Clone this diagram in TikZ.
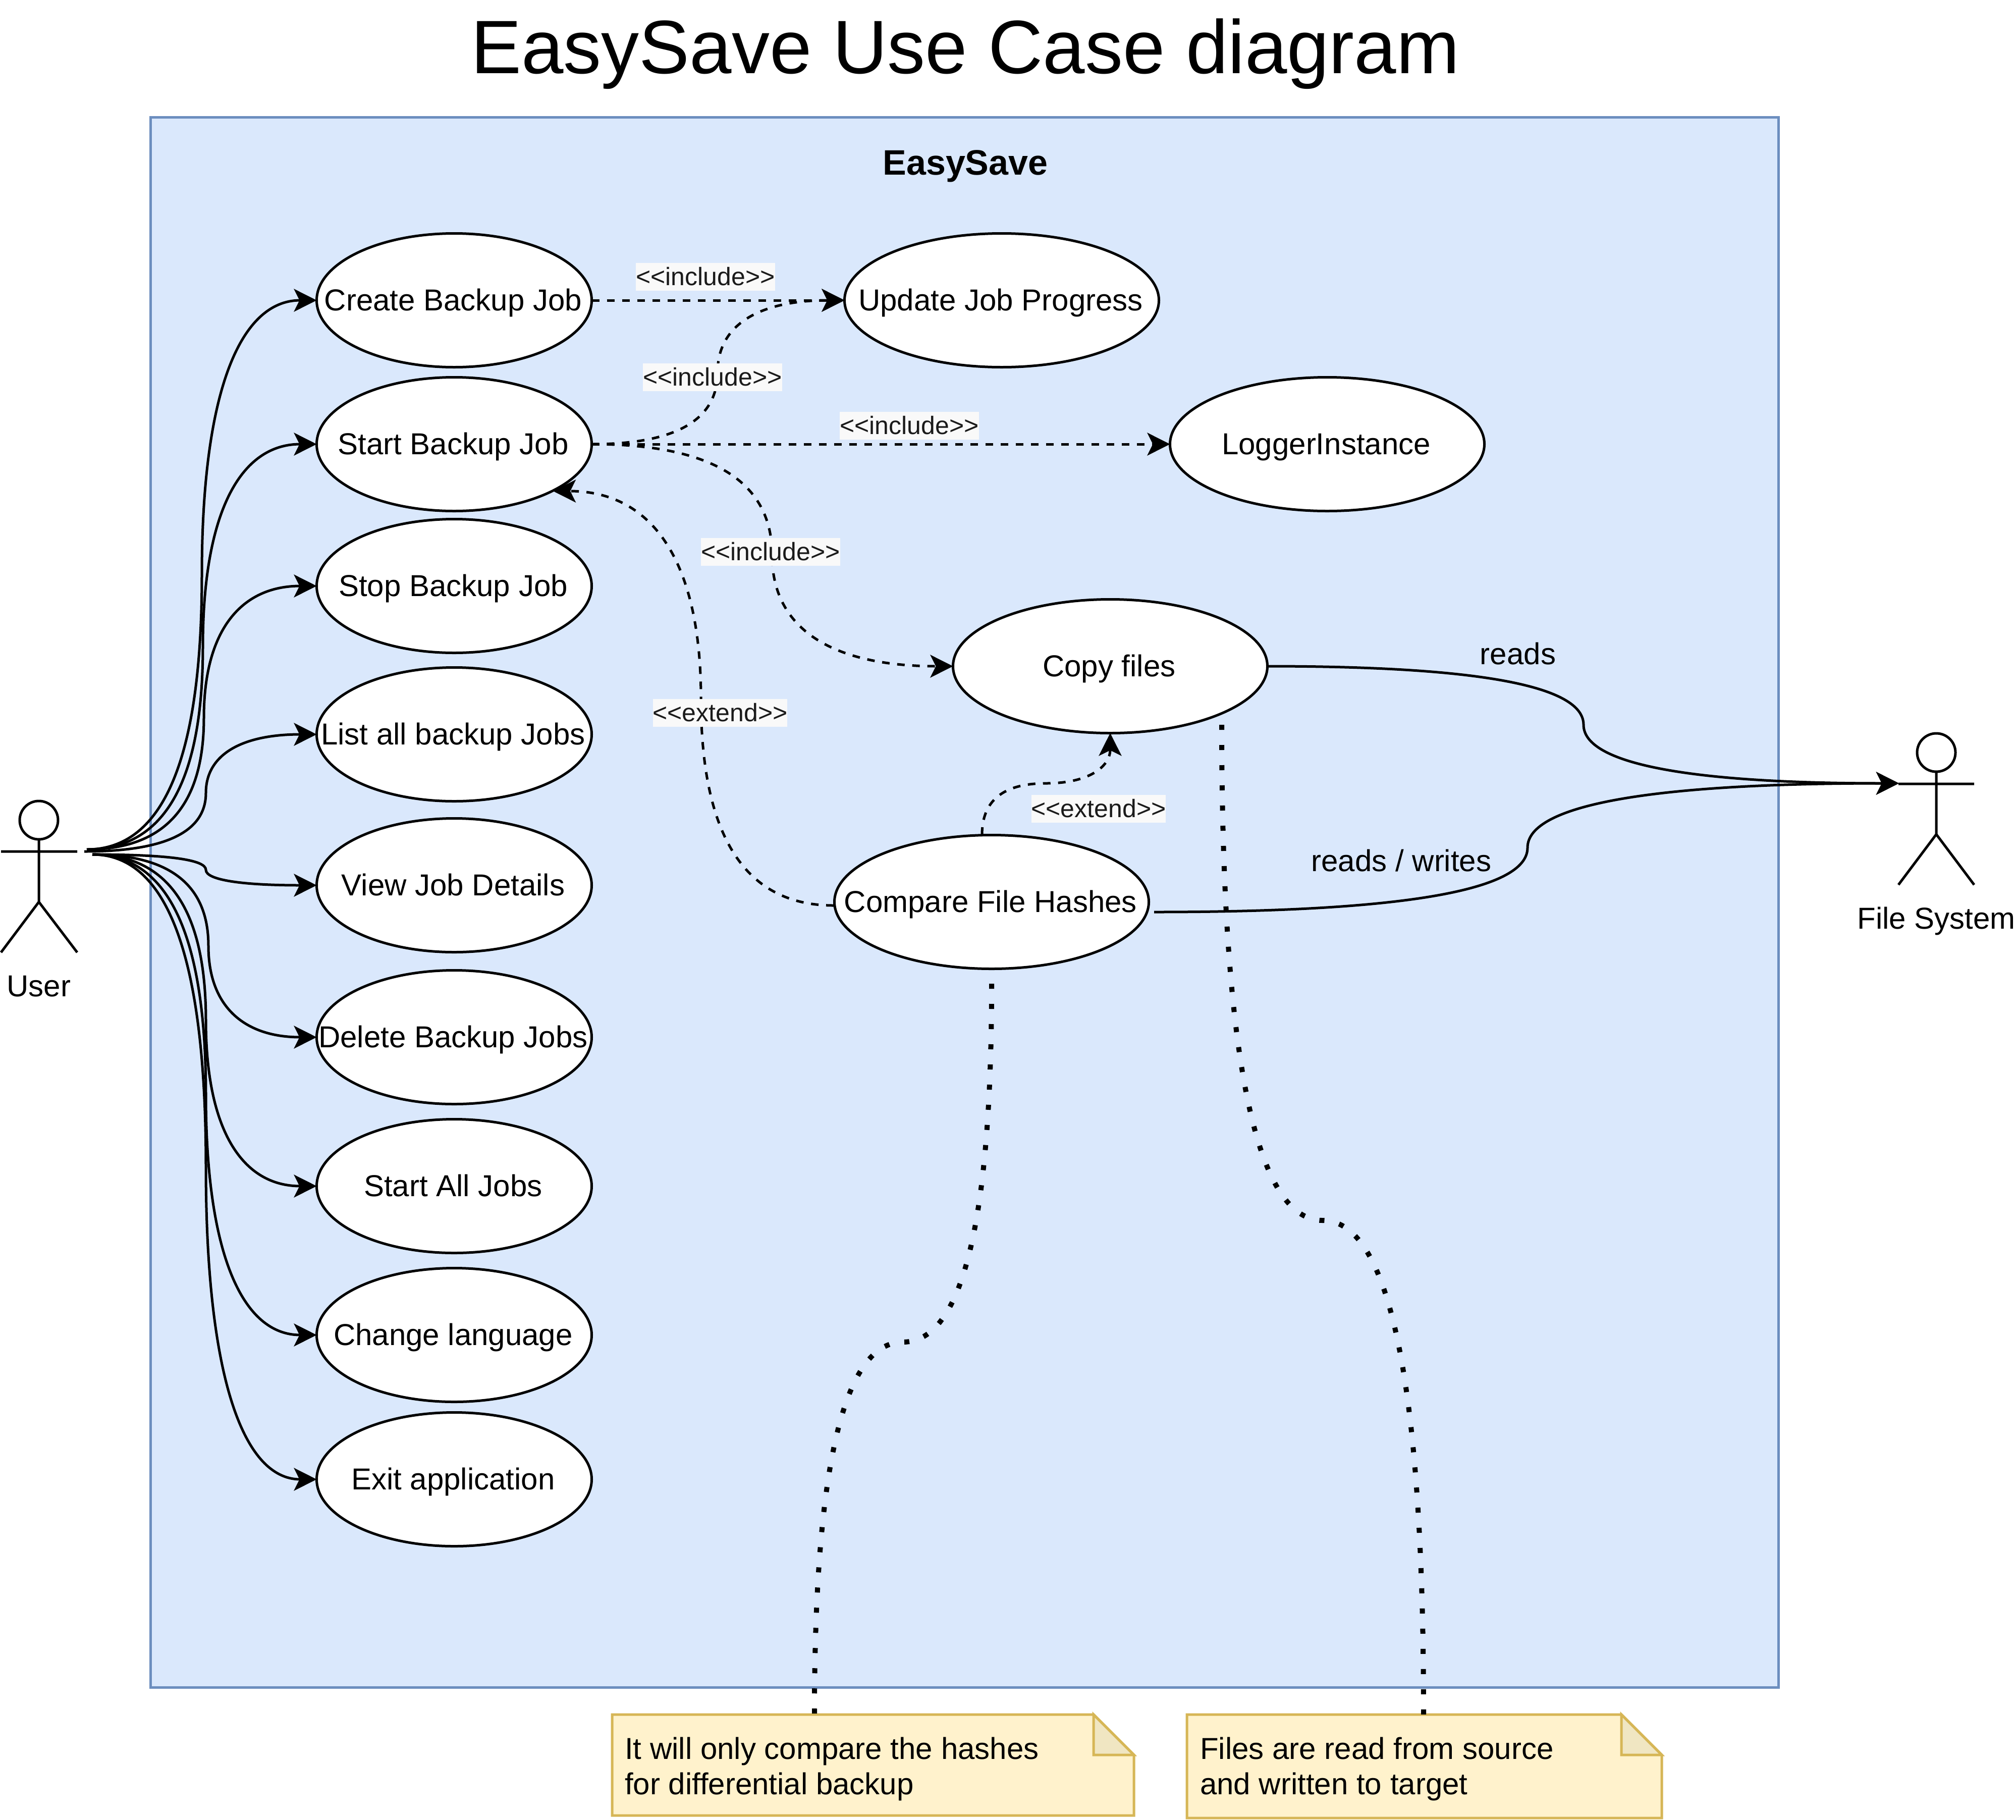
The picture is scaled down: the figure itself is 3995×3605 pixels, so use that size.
\documentclass[tikz,border=0pt]{standalone}
\usepackage{fontspec}
\setmainfont{Liberation Sans}
\usetikzlibrary{calc,arrows.meta,shapes.geometric}
\definecolor{boxfill}{HTML}{DAE8FC}
\definecolor{boxline}{HTML}{6C8EBF}
\definecolor{notefill}{HTML}{FFF2CC}
\definecolor{noteline}{HTML}{D6B656}
\definecolor{notefold}{HTML}{F0E6C2}
\definecolor{labelbg}{HTML}{F9F9F9}
\definecolor{labeltext}{HTML}{1A1A1A}
\newcommand{\casetext}[1]{\smash{\raisebox{-20pt}{\makebox[0pt][c]{\hspace*{-4pt}#1}}}}
\tikzset{
  x=1pt,y=-1pt,
  usecase/.style={draw=black,fill=white,ellipse,line width=5pt,inner sep=0pt,outer sep=0pt,font=\fontsize{60}{70}\selectfont},
  leftcase/.style={usecase,minimum width=545pt,minimum height=265pt},
  rightcase/.style={usecase,minimum width=623pt,minimum height=265pt},
  flow/.style={draw=black,line width=5pt,-{Stealth[length=45pt,width=45pt,inset=11pt]}},
  dashflow/.style={flow,dash pattern=on 15pt off 15pt},
  dotflow/.style={draw=black,line width=10pt,dash pattern=on 10pt off 30pt},
  stereotype/.style={fill=labelbg,text=labeltext,inner sep=0pt,minimum width=275pt,minimum height=55pt,font=\fontsize{50}{55}\selectfont},
  plainlabel/.style={inner sep=0pt,font=\fontsize{60}{70}\selectfont},
  figure/.style={draw=black,line width=5pt},
  notebody/.style={draw=noteline,fill=notefill,line width=5pt,line join=miter},
  notecorner/.style={draw=noteline,fill=notefold,line width=5pt,line join=miter},
  notetext/.style={anchor=north west,inner sep=0pt,align=left,font=\fontsize{60}{70}\selectfont}
}
% horizontal-vertical-horizontal rounded route
\newcommand{\hvh}[4][]{%
  \coordinate (qs) at (#2);\coordinate (qe) at (#4);\coordinate (qx) at (#3,0);
  \coordinate (qa) at (qx |- qs);\coordinate (qb) at (qx |- qe);
  \coordinate (qm) at ($(qa)!.5!(qb)$);
  \draw[#1] (qs) .. controls ($(qs)!.6667!(qa)$) and ($(qm)!.6667!(qa)$) .. (qm)
     .. controls ($(qm)!.6667!(qb)$) and ($(qe)!.6667!(qb)$) .. (qe);}
% vertical-horizontal-vertical rounded route
\newcommand{\vhv}[4][]{%
  \coordinate (qs) at (#2);\coordinate (qe) at (#4);\coordinate (qx) at (0,#3);
  \coordinate (qa) at (qs |- qx);\coordinate (qb) at (qe |- qx);
  \coordinate (qm) at ($(qa)!.5!(qb)$);
  \draw[#1] (qs) .. controls ($(qs)!.6667!(qa)$) and ($(qm)!.6667!(qa)$) .. (qm)
     .. controls ($(qm)!.6667!(qb)$) and ($(qe)!.6667!(qb)$) .. (qe);}
\begin{document}
\begin{tikzpicture}
\useasboundingbox (0,0) rectangle (3995,3605);
% title and system box
\node[inner sep=0pt,font=\fontsize{150}{170}\selectfont] (title) at (1913,107) {EasySave Use Case diagram};
\draw[draw=boxline,fill=boxfill,line width=5pt] (298,232) rectangle (3524,3343);
\node[inner sep=0pt,font=\fontsize{70}{80}\selectfont\bfseries] (system) at (1913,329) {EasySave};
% notes
\draw[notebody] (1213,3397) -- (2167,3397) -- (2247,3477) -- (2247,3597) -- (1213,3597) -- cycle;
\draw[notecorner] (2167,3397) -- (2247,3477) -- (2167,3477) -- cycle;
\node[notetext] (noteA) at (1238,3442) {It will only compare the hashes\\for differential backup};
\draw[notebody] (2352,3397) -- (3213,3397) -- (3293,3477) -- (3293,3602) -- (2352,3602) -- cycle;
\draw[notecorner] (3213,3397) -- (3293,3477) -- (3213,3477) -- cycle;
\node[notetext] (noteB) at (2378,3442) {Files are read from source\\and written to target};
\coordinate (noteAtop) at (1614,3397);
\coordinate (noteBtop) at (2821,3397);
% use cases
\node[leftcase] (create) at (900,595) {\casetext{Create Backup Job}};
\node[leftcase] (start) at (900,880) {\casetext{Start Backup Job}};
\node[leftcase] (stop) at (900,1161) {\casetext{Stop Backup Job}};
\node[leftcase] (list) at (900,1455) {\casetext{List all backup Jobs}};
\node[leftcase] (view) at (900,1754) {\casetext{View Job Details}};
\node[leftcase] (delete) at (900,2055) {\casetext{Delete Backup Jobs}};
\node[leftcase] (startall) at (900,2350) {\casetext{Start All Jobs}};
\node[leftcase] (change) at (900,2645) {\casetext{Change language}};
\node[leftcase] (exit) at (900,2931) {\casetext{Exit application}};
\node[rightcase] (update) at (1985,595) {\casetext{Update Job Progress}};
\node[rightcase] (logger) at (2630,880) {\casetext{LoggerInstance}};
\node[rightcase] (copy) at (2200,1320) {\casetext{Copy files}};
\node[rightcase] (compare) at (1965,1787) {\casetext{Compare File Hashes}};
% actors
\draw[figure] (77,1625) circle (38);
\draw[figure] (77,1663) -- (77,1787) (2,1687) -- (153,1687) (2,1887) -- (77,1787) -- (153,1887);
\node[plainlabel] (userlabel) at (77,1954) {User};
\draw[figure] (3837,1491) circle (38);
\draw[figure] (3837,1529) -- (3837,1653) (3762,1553) -- (3912,1553) (3762,1753) -- (3837,1653) -- (3912,1753);
\node[plainlabel] (fslabel) at (3837,1825) {File System};
\coordinate (userU) at (172,1683);
\coordinate (userM) at (167,1687);
\coordinate (userL) at (183,1693);
\coordinate (fsport) at (3763,1552);
% user connectors
\hvh[flow]{userU}{400}{create.west}
\hvh[flow]{userU}{402}{start.west}
\hvh[flow]{userU}{404}{stop.west}
\hvh[flow]{userM}{408}{list.west}
\hvh[flow]{userL}{408}{view.west}
\hvh[flow]{userL}{413}{delete.west}
\hvh[flow]{userL}{408}{startall.west}
\hvh[flow]{userL}{408}{change.west}
\hvh[flow]{userL}{408}{exit.west}
% dependency connectors
\draw[dashflow] (create.east) -- (update.west);
\hvh[dashflow]{start.east}{1422}{update.west}
\draw[dashflow] (start.east) -- (logger.west);
\hvh[dashflow]{start.east}{1530}{copy.west}
\coordinate (cmpW) at (1652,1794);
\coordinate (startSE) at (1096,973);
\hvh[dashflow]{cmpW}{1389}{startSE}
\coordinate (cmpN) at (1946,1654);
\vhv[dashflow]{cmpN}{1552}{copy.south}
% file system connectors
\hvh[flow]{copy.east}{3138}{fsport}
\coordinate (cmpE) at (2287,1807);
\hvh[flow]{cmpE}{3027}{fsport}
% note connectors
\coordinate (cmpS) at (1965,1949);
\coordinate (copyS) at (2421,1436);
\vhv[dotflow]{cmpS}{2659}{noteAtop}
\vhv[dotflow]{copyS}{2418}{noteBtop}
% labels
\node[stereotype] (inc1) at (1398,548) {<{}<include>{}>};
\node[stereotype] (inc2) at (1412,747) {<{}<include>{}>};
\node[stereotype] (inc3) at (1802,843) {<{}<include>{}>};
\node[stereotype] (inc4) at (1527,1093) {<{}<include>{}>};
\node[stereotype,minimum width=265pt] (ext1) at (1427,1412) {<{}<extend>{}>};
\node[stereotype,minimum width=265pt] (ext2) at (2177,1602) {<{}<extend>{}>};
\node[plainlabel] (reads) at (3008,1295) {reads};
\node[plainlabel] (rw) at (2777,1705) {reads / writes};
\end{tikzpicture}
\end{document}
